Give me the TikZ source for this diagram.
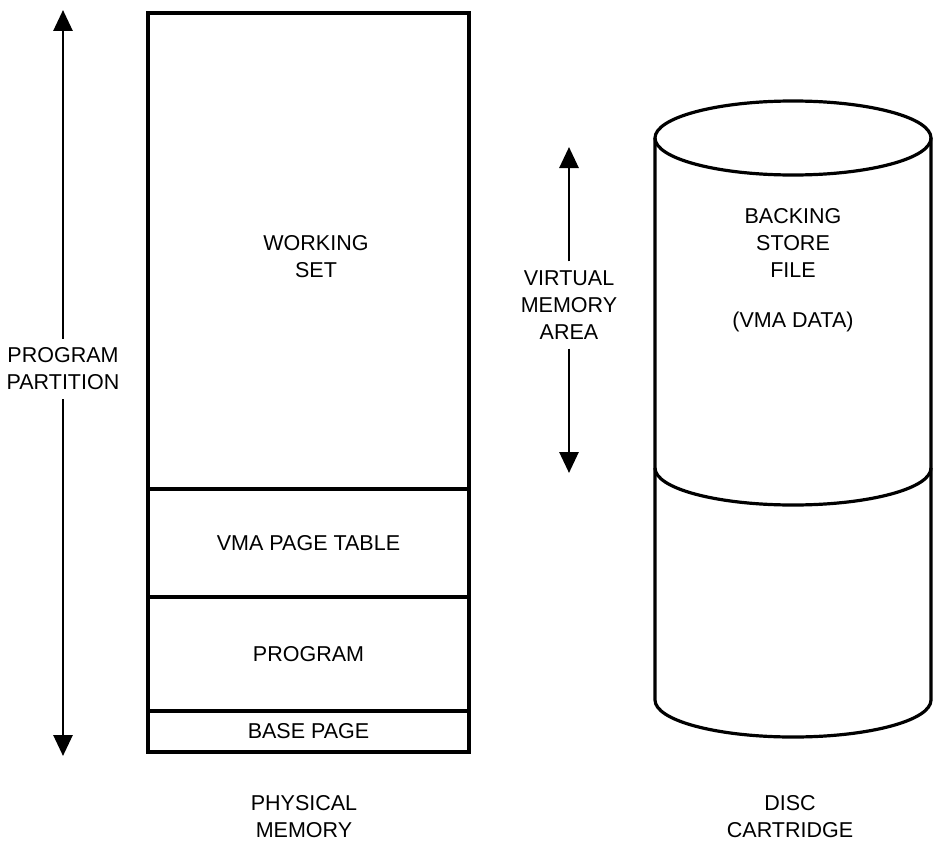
\documentclass[tikz,border=0pt]{standalone}
\usepackage{fontspec}
\setmainfont{Liberation Sans}
\usetikzlibrary{arrows.meta}
\begin{document}
\begin{tikzpicture}[x=1pt,y=-1pt,
  lbl/.style={font=\fontsize{21.5}{27}\selectfont, align=center, inner xsep=2pt, inner ysep=9pt},
  caption/.style={lbl, inner ysep=1pt},
  seg/.style={draw, line width=3.5pt, minimum width=321pt, inner sep=0pt, outer sep=0pt, anchor=north,
    font=\fontsize{21.5}{27}\selectfont},
  dimarrow/.style={line width=2.8pt, -{Triangle[width=19pt,length=21pt]}},
  cyl/.style={line width=3.2pt}]
\useasboundingbox (0,0) rectangle (933,843);

% physical memory boxes
\node[seg, minimum height=476pt] (ws) at (308.5,13) {};
\node[seg, minimum height=108pt] (pt) at (ws.south) {VMA PAGE TABLE};
\node[seg, minimum height=114pt] (pg) at (pt.south) {PROGRAM};
\node[seg, minimum height=41pt] (bp) at (pg.south) {BASE PAGE};
\node[lbl] (wsl) at (316,257) {WORKING\\SET};
\node[caption] (phys) at (304,817) {PHYSICAL\\MEMORY};

% program partition dimension
\node[lbl] (pp) at (63,369) {PROGRAM\\PARTITION};
\coordinate (pptop) at (63,10);
\coordinate (ppbot) at (63,756);
\draw[dimarrow] (pp.north) -- (pptop);
\draw[dimarrow] (pp.south) -- (ppbot);

% virtual memory area dimension
\node[lbl] (vma) at (569,305) {VIRTUAL\\MEMORY\\AREA};
\coordinate (vmatop) at (569,147);
\coordinate (vmabot) at (569,473);
\draw[dimarrow] (vma.north) -- (vmatop);
\draw[dimarrow] (vma.south) -- (vmabot);

% disc cartridge cylinder
\draw[cyl] (793,138) ellipse [x radius=138, y radius=37];
\draw[cyl] (655,138) -- (655,700) arc[start angle=180, end angle=0, x radius=138, y radius=37] -- (931,138);
\draw[cyl] (655,468) arc[start angle=180, end angle=0, x radius=138, y radius=37];
\node[lbl] (bs) at (793,243) {BACKING\\STORE\\FILE};
\node[lbl] (vd) at (793,322) {(VMA DATA)};
\node[caption] (disc) at (790,817) {DISC\\CARTRIDGE};
\end{tikzpicture}
\end{document}
